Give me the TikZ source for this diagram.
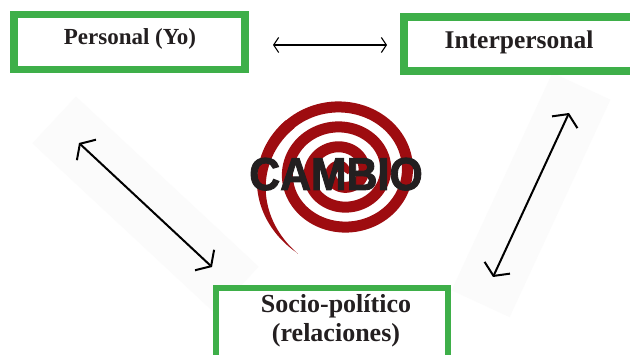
\documentclass[tikz,border=0pt]{standalone}
\usepackage{fontspec}
\setmainfont{Liberation Serif}
\newfontfamily\cambiofont{Liberation Sans}[BoldFeatures={FakeBold=2}]
\usetikzlibrary{arrows.meta}
\definecolor{boxgreen}{RGB}{62,175,73}
\definecolor{spiralred}{RGB}{158,12,16}
\definecolor{ink}{RGB}{35,31,32}
\begin{document}
\begin{tikzpicture}[x=1pt,y=-1pt,
  greenbox/.style={draw=boxgreen, fill=white, inner sep=0pt, outer sep=0pt},
  boxlabel/.style={anchor=base, text=ink, inner sep=0pt},
  thinarrow/.style={draw=black, line width=1.1pt, {Straight Barb[length=5pt,width=15pt]}-{Straight Barb[length=5pt,width=15pt]}},
  diagarrow/.style={draw=black, line width=2pt, {Straight Barb[length=9pt,width=28pt]}-{Straight Barb[length=9pt,width=28pt]}},
  scanshade/.style={fill=black!1.5}
]
\useasboundingbox (0,0) rectangle (630,355);
\fill[white] (0,0) rectangle (630,355);
% faint scan shading behind the diagonal arrows
\fill[scanshade] (215.1,313.5) -- (258.7,266.7) -- (76,96.5) -- (32.3,143.3) -- cycle;
\fill[scanshade] (610.4,99.7) -- (552.4,72.9) -- (451.6,290.3) -- (509.6,317.1) -- cycle;
% boxes
\node[greenbox, line width=7.5pt, minimum width=231pt, minimum height=55pt] (personal) at (129.5,42) {};
\node[greenbox, line width=8pt, minimum width=236pt, minimum height=54pt] (interpersonal) at (522,44) {};
\node[greenbox, line width=6pt, minimum width=232pt, minimum height=77pt] (socio) at (331.5,326.5) {};
% labels
\node[boxlabel, font=\bfseries\fontsize{23}{27}\selectfont] (personaltext) at (130,45) {Personal (Yo)};
\node[boxlabel, font=\bfseries\fontsize{25.5}{29}\selectfont] (interpersonaltext) at (519,49) {Interpersonal};
\node[boxlabel, font=\bfseries\fontsize{26}{29}\selectfont] (sociotext1) at (336,313) {Socio-político};
\node[boxlabel, font=\bfseries\fontsize{26}{29}\selectfont] (sociotext2) at (336,342) {(relaciones)};
% spiral
\draw[spiralred, line width=11pt] plot[domain=0.5:21.3, samples=400, variable=\t]
  ({342+1.09*3.183*\t*cos(\t r)}, {172-3.183*\t*sin(\t r)});
\fill[spiralred] plot[domain=21.2:23.1, samples=60, variable=\t]
  ({342+1.09*(3.183*\t+5.5+3.3*(\t-21.2)*(\t-21.2))*cos(\t r)}, {172-(3.183*\t+5.5+3.3*(\t-21.2)*(\t-21.2))*sin(\t r)})
  -- plot[domain=0:1.9, samples=60, variable=\s]
  ({342+1.09*(3.183*(23.1-\s)-5.5+6.4*(1.9-\s)*(1.9-\s))*cos((23.1-\s) r)}, {172-(3.183*(23.1-\s)-5.5+6.4*(1.9-\s)*(1.9-\s))*sin((23.1-\s) r)})
  -- cycle;
\node[anchor=base, inner sep=0pt, text=ink, font=\cambiofont\bfseries\fontsize{46}{50}\selectfont] (cambio) at (336,190) {\scalebox{0.93}[1]{CAMBIO}};
% arrows
\coordinate (topL) at (273,45);
\coordinate (topR) at (387,45);
\draw[thinarrow] (topL) -- (topR);
\coordinate (leftA) at (79,143);
\coordinate (leftB) at (212,267);
\draw[diagarrow] (leftA) -- (leftB);
\coordinate (rightA) at (493,277);
\coordinate (rightB) at (569,113);
\draw[diagarrow] (rightA) -- (rightB);
\end{tikzpicture}
\end{document}
